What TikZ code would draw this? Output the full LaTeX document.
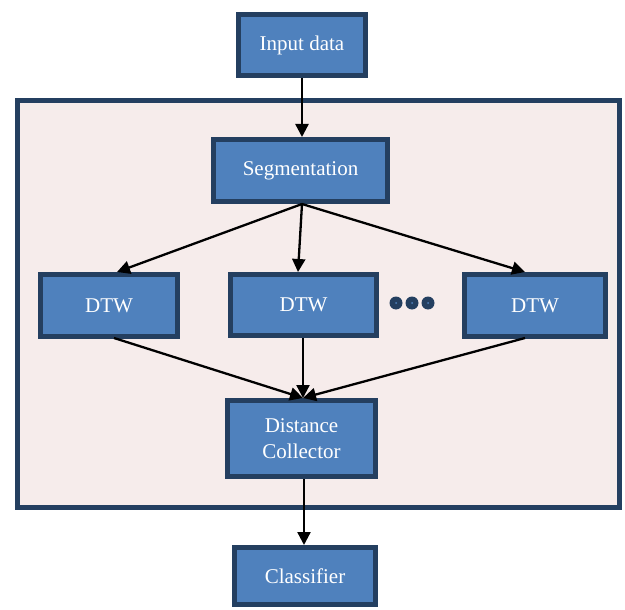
\documentclass[tikz,border=0pt]{standalone}
\usepackage{fontspec}
\setmainfont{Liberation Serif}
\usetikzlibrary{arrows.meta}
\definecolor{boxfill}{HTML}{4F81BD}
\definecolor{boxline}{HTML}{243F60}
\definecolor{bgfill}{HTML}{F6ECEB}
\tikzset{
  blk/.style={draw=boxline, line width=5pt, fill=boxfill, text=white, font=\fontsize{21}{26}\selectfont, align=center, inner sep=0pt},
  arr/.style={draw=black, line width=2.3pt, -{Triangle[length=13pt,width=13pt]}},
}
\begin{document}
\begin{tikzpicture}[x=1pt,y=-1pt]
\useasboundingbox (0,0) rectangle (625,610);
\node[draw=boxline, line width=5pt, fill=bgfill, minimum width=602pt, minimum height=407pt, inner sep=0pt] (cont) at (318.5,304) {};
\node[blk, minimum width=127pt, minimum height=61pt] (in) at (302,45) {Input data};
\node[blk, minimum width=174pt, minimum height=62pt] (seg) at (300.5,170.5) {Segmentation};
\node[blk, minimum width=137pt, minimum height=62pt] (d1) at (109,305.5) {DTW};
\node[blk, minimum width=146pt, minimum height=61pt] (d2) at (303.5,305) {DTW};
\node[blk, minimum width=141pt, minimum height=62pt] (d3) at (535,305.5) {DTW};
\node[blk, minimum width=148pt, minimum height=76pt] (dc) at (301.5,438.5) {Distance\\Collector};
\node[blk, minimum width=141pt, minimum height=57pt] (cl) at (305,576) {Classifier};
\foreach \x/\n in {396/p1,412/p2,428/p3}{
  \node[circle, fill=boxline, minimum size=13pt, inner sep=0pt] (\n) at (\x,303) {};
  \fill[boxfill] (\n) circle (1pt);
}
\coordinate (in0) at (302,78);
\coordinate (seg1) at (302,137);
\coordinate (s0) at (302,204);
\coordinate (d1t) at (117,272);
\coordinate (d2t) at (298,272);
\coordinate (d3t) at (525,272);
\coordinate (d1b) at (114,338);
\coordinate (d2b) at (303,338);
\coordinate (d3b) at (525,338);
\coordinate (dct) at (303,398);
\coordinate (dcb) at (304,479);
\coordinate (clt) at (304,545);
\draw[arr] (in0) -- (seg1);
\draw[arr] (s0) -- (d1t);
\draw[arr] (s0) -- (d2t);
\draw[arr] (s0) -- (d3t);
\draw[arr] (d1b) -- (dct);
\draw[arr] (d2b) -- (dct);
\draw[arr] (d3b) -- (dct);
\draw[arr] (dcb) -- (clt);
\end{tikzpicture}
\end{document}
